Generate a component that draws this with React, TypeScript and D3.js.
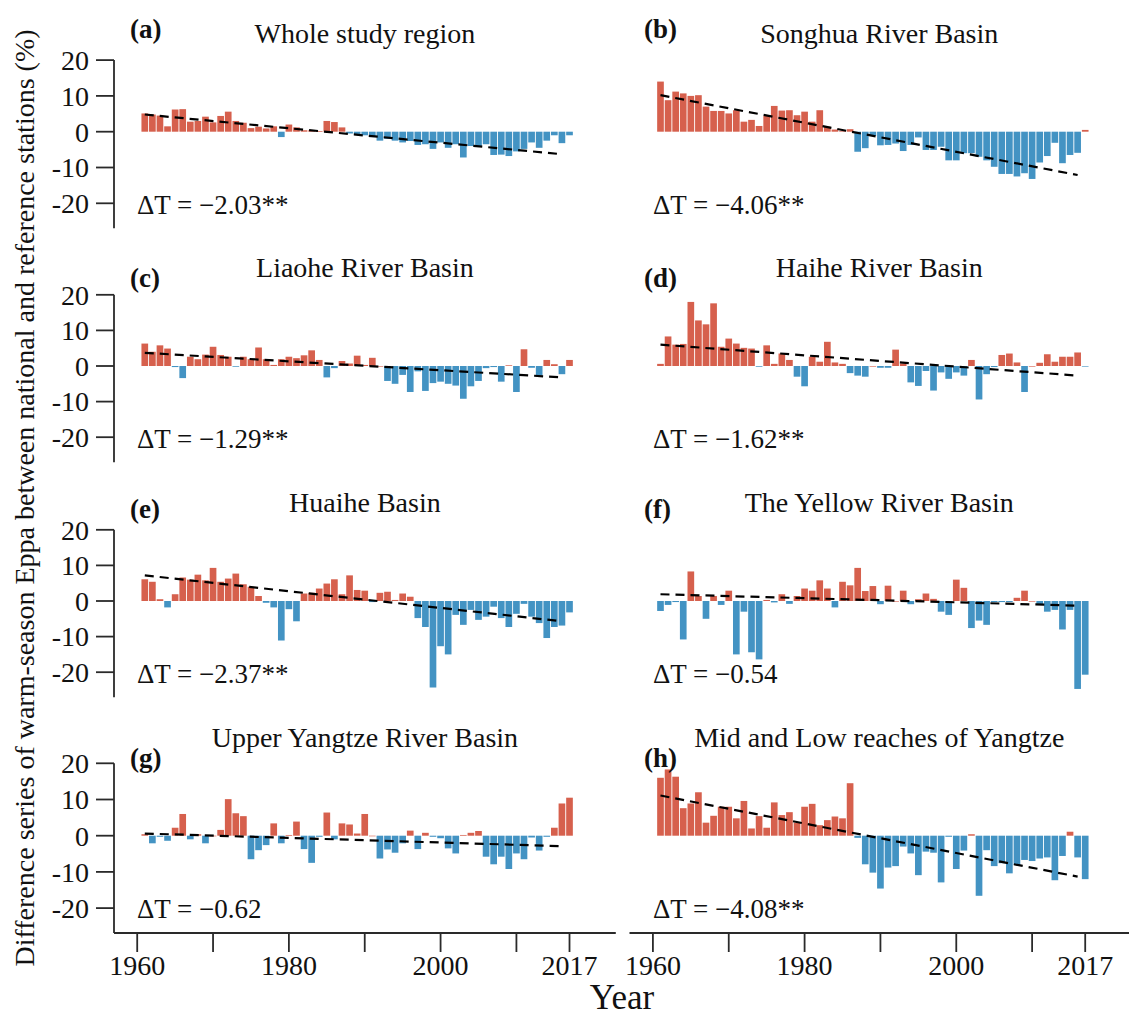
import React from 'react';
import * as d3 from 'd3';

// ---------- data ----------
const years: number[] = d3.range(1961, 2018);

const seriesA = [5.1, 4.8, 4.5, 1.5, 6.2, 6.3, 2.8, 3.0, 4.2, 2.6, 4.4, 5.6, 3.0, 2.5, 1.0, 1.4, 0.9, 1.5, -1.5, 2.0, 1.2, 0.4, 0.4, 0.2, 3.0, 2.7, 1.2, -0.5, -0.8, -1.0, -1.5, -2.5, -2.0, -2.5, -3.0, -2.6, -3.7, -3.5, -4.8, -3.0, -4.5, -3.5, -7.2, -4.0, -4.0, -3.5, -6.5, -6.4, -6.8, -5.5, -4.8, -3.0, -4.5, -2.5, -1.0, -3.2, -1.0];
const seriesB = [14, 8.8, 11.2, 10.7, 10, 10.2, 7, 5.8, 5.8, 5.1, 6, 2.8, 3.3, 1.6, 4.4, 7.2, 5.9, 6, 4.6, 5.6, 2.8, 6, 1.4, 0.6, 0.1, 0.7, -5.6, -4.6, -1.2, -3.8, -3.7, -3.3, -5.4, -3.7, -1.6, -5.1, -5.1, -4.2, -8, -8, -6, -6, -7, -8, -9.8, -11.8, -11.8, -12.5, -11.6, -13.2, -8.6, -6.8, -3.1, -8.8, -6.5, -5.9, 0.5];
const seriesC = [6.3, 4.0, 5.8, 4.9, -0.3, -3.4, 2.6, 1.9, 3.2, 5.4, 3.1, 2.6, -0.2, 2.6, 1.9, 5.2, 1.9, 0.3, 1.9, 2.6, 2.2, 3.0, 4.4, 1.7, -3.2, -0.6, 1.4, 0.7, 2.9, 0.3, 2.3, 0, -4.2, -5.0, -2.5, -7.3, -1.5, -7.0, -4.8, -4.4, -5.0, -5.5, -9.2, -5.7, -4.2, -0.6, -0.3, -4.4, 0.2, -7.3, 4.7, -0.5, -2.7, 1.7, 0.5, -2.3, 1.7];
const seriesD = [0.6, 8.3, 6.0, 6.2, 18.0, 12.8, 11.7, 17.6, 5.4, 7.7, 6.3, 5.1, 4.9, -0.2, 5.8, 0.6, 3.5, 1.7, -3.0, -5.7, 2.6, 1.2, 6.8, 1.0, 0.6, -2.0, -2.7, -3.0, 0, -0.5, -0.5, 4.6, 0.7, -4.6, -5.6, -1.4, -6.9, -1.8, -3.6, -1.8, -2.7, 1.7, -9.4, -2.3, -0.3, 3.1, 3.5, 1.0, -7.3, 0, 0.9, 3.3, 1.2, 2.6, 2.6, 3.8, -0.1];
const seriesE = [6.1, 5.4, 0.5, -1.8, 1.9, 6.6, 6.0, 7.4, 5.8, 9.3, 5.4, 6.3, 7.7, 4.7, 4.0, 1.4, -0.5, -1.8, -11.1, -2.3, -5.7, 2.1, 2.3, 3.5, 4.9, 6.1, 1.9, 7.2, 3.1, 2.9, -0.3, 2.3, 2.6, 0.3, 2.1, 1.2, -4.8, -7.3, -24.3, -12.7, -15.0, -3.9, -6.7, -2.5, -5.3, -4.4, -1.6, -4.8, -7.3, -3.6, -0.8, -4.4, -6.2, -10.4, -7.3, -6.9, -3.2];
const seriesF = [-2.8, -1.1, -0.3, -10.8, 8.3, 1.4, -5.0, 1.4, -1.1, 2.9, -15.0, -3.0, -14.4, -16.4, 0.3, -0.4, 1.9, -0.8, 1.4, 3.5, 2.9, 5.8, 3.5, -1.8, 5.4, 4.4, 9.3, 2.8, 4.2, -0.9, 4.3, 0, 2.9, -0.9, 0.5, 2.1, 0.6, -3.0, -3.9, 6.0, 3.7, -7.6, -5.5, -6.7, -0.3, -0.3, -0.3, 0.9, 2.9, 0, -1.1, -3.0, -2.5, -8.0, -2.5, -24.7, -20.7];
const seriesG = [0.4, -2.1, -0.3, -1.4, 2.2, 6.0, -1.0, 0.4, -2.1, 0, 1.6, 10.1, 6.2, 5.4, -6.5, -4.0, -2.6, 3.4, -2.1, 0.2, 3.9, -3.7, -7.5, -0.3, 6.4, -1.0, 3.4, 3.1, 0.6, 6.0, 0, -6.3, -3.8, -4.7, -2.1, 1.4, -3.7, 0.8, -0.3, -0.7, -3.5, -4.9, 0.2, 0.8, 1.3, -5.8, -7.9, -5.8, -9.2, -4.9, -6.5, -0.5, -4.1, -0.3, 2.2, 8.9, 10.5];
const seriesH = [16, 18.3, 16.3, 7.6, 8.9, 12, 3.6, 5.5, 8, 8, 4.8, 9.6, 2, 5.4, 2.2, 9.2, 5.7, 6.5, 3.6, 8, 8.8, 2.9, 4.3, 5.3, 4.8, 14.5, -0.6, -7.9, -10.2, -14.6, -8.8, -8.4, -3.0, -4.9, -10.9, -4.4, -4.7, -12.9, -0.3, -9.2, -4.1, 0.4, -16.6, -4.0, -8.4, -7.6, -10.4, -8.1, -6.7, -7.0, -6.3, -6.0, -12.3, -5.6, 1.1, -6.0, -12.0];

const allSeries = [seriesA, seriesB, seriesC, seriesD, seriesE, seriesF, seriesG, seriesH];
const panelLetters = ['(a)', '(b)', '(c)', '(d)', '(e)', '(f)', '(g)', '(h)'];
const panelTitles = [
  'Whole study region',
  'Songhua River Basin',
  'Liaohe River Basin',
  'Haihe River Basin',
  'Huaihe Basin',
  'The Yellow River Basin',
  'Upper Yangtze River Basin',
  'Mid and Low reaches of Yangtze',
];
const deltaT = [
  'ΔT = −2.03**',
  'ΔT = −4.06**',
  'ΔT = −1.29**',
  'ΔT = −1.62**',
  'ΔT = −2.37**',
  'ΔT = −0.54',
  'ΔT = −0.62',
  'ΔT = −4.08**',
];
const trendStart = [4.8, 10.2, 3.7, 6.0, 7.2, 1.9, 0.6, 11.1];
const trendEnd = [-6.3, -12.1, -3.2, -2.7, -5.7, -1.3, -2.9, -11.3];
const trendYears = [1961, 2016];

const yTicks = [20, 10, 0, -10, -20];
const xTicks = [1960, 1970, 1980, 1990, 2000, 2010, 2017];
const xTickLabels = [1960, 1980, 2000, 2017];

const yAxisTitle = 'Difference series of warm-season Eppa between national and reference stations (%)';
const xAxisTitle = 'Year';

// ---------- layout ----------
const W = 1129;
const H = 1019;
const FONT =
  "'Liberation Serif', 'Times New Roman', Times, 'DejaVu Serif', 'Noto Serif', Tinos, 'Nimbus Roman', 'FreeSerif', Georgia, serif";
const RED = '#D6604D';
const BLUE = '#4393C3';
const AXIS = '#2a2a2a';

const cols = [
  { barL: 141, barR: 573.3, axisL: 114, axisR: 615.8, text: 137, label: 130 },
  { barL: 656.7, barR: 1089, axisL: 629.5, axisR: 1129, text: 653, label: 644 },
];
const rowZero = [131.7, 366, 601, 835.7];
const pxPerUnit = [3.58, 3.56, 3.56, 3.62];
const labelOffset = [-94, -79, -83, -69];
const xAxisY = 933;

const txt = { fontFamily: FONT, fill: '#111' } as const;

export default function App() {
  const panels = allSeries.map((vals, i) => {
    const row = Math.floor(i / 2);
    const col = i % 2;
    const c = cols[col];
    const zero = rowZero[row];
    const ppu = pxPerUnit[row];
    const x = d3.scaleBand<number>().domain(years).range([c.barL, c.barR]).paddingInner(0.12).paddingOuter(0.06);
    const y = d3.scaleLinear().domain([-20, 20]).range([zero + 20 * ppu, zero - 20 * ppu]);
    const bw = x.bandwidth();
    const xl = d3
      .scaleLinear()
      .domain([years[0], years[years.length - 1]])
      .range([(x(years[0]) as number) + bw / 2, (x(years[years.length - 1]) as number) + bw / 2]);
    const line = d3
      .line<[number, number]>()
      .x((d) => xl(d[0]))
      .y((d) => y(d[1]));
    const trendPts: [number, number][] = [
      [trendYears[0], trendStart[i]],
      [trendYears[1], trendEnd[i]],
    ];
    const cx = (c.axisL + c.axisR) / 2;
    return (
      <g key={i}>
        {vals.map((v, k) => {
          const yr = years[k];
          const y0 = y(0);
          const y1 = y(v);
          return (
            <rect
              key={yr}
              x={x(yr)}
              width={bw}
              y={Math.min(y0, y1)}
              height={Math.max(Math.abs(y1 - y0), 0.6)}
              fill={v >= 0 ? RED : BLUE}
            />
          );
        })}
        <path d={line(trendPts) || ''} fill="none" stroke="#000" strokeWidth={2.2} strokeDasharray="9,6" />
        <text x={c.label} y={zero + labelOffset[row]} style={{ ...txt, fontWeight: 'bold', fontSize: 27 }}>
          {panelLetters[i]}
        </text>
        <text x={cx} y={zero - 89} textAnchor="middle" style={{ ...txt, fontSize: 28 }}>
          {panelTitles[i]}
        </text>
        <text x={c.text} y={zero + 82} style={{ ...txt, fontSize: 27 }}>
          {deltaT[i]}
        </text>
        {col === 0 && (
          <g>
            <line
              x1={c.axisL}
              x2={c.axisL}
              y1={y(20)}
              y2={row === 3 ? xAxisY : y(-20) + 25}
              stroke={AXIS}
              strokeWidth={1.8}
            />
            {yTicks.map((t) => (
              <g key={t}>
                <line x1={c.axisL - 18} x2={c.axisL} y1={y(t)} y2={y(t)} stroke={AXIS} strokeWidth={1.8} />
                <text x={c.axisL - 25} y={y(t)} dy="0.35em" textAnchor="end" style={{ ...txt, fontSize: 28 }}>
                  {t}
                </text>
              </g>
            ))}
          </g>
        )}
        {row === 3 && (
          <g>
            <line x1={c.axisL} x2={c.axisR} y1={xAxisY} y2={xAxisY} stroke={AXIS} strokeWidth={1.8} />
            {xTicks.map((t) => {
              const px = xl(t);
              return (
                <g key={t}>
                  <line x1={px} x2={px} y1={xAxisY} y2={xAxisY + 19} stroke={AXIS} strokeWidth={1.8} />
                  {xTickLabels.includes(t) && (
                    <text x={px} y={975} textAnchor="middle" style={{ ...txt, fontSize: 28 }}>
                      {t}
                    </text>
                  )}
                </g>
              );
            })}
          </g>
        )}
      </g>
    );
  });

  return (
    <svg
      width={W}
      height={H}
      viewBox={`0 0 ${W} ${H}`}
      style={{ position: 'absolute', left: 0, top: 0, display: 'block', background: '#fff' }}
    >
      <rect x={0} y={0} width={W} height={H} fill="#fff" />
      {panels}
      <text transform="translate(34,498) rotate(-90)" textAnchor="middle" style={{ ...txt, fontSize: 28 }}>
        {yAxisTitle}
      </text>
      <text x={622} y={1009} textAnchor="middle" style={{ ...txt, fontSize: 35 }}>
        {xAxisTitle}
      </text>
    </svg>
  );
}
